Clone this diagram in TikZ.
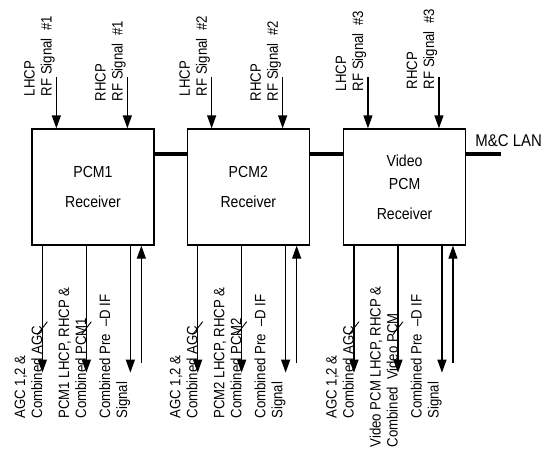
\documentclass[tikz,border=0pt]{standalone}
\usepackage{fontspec}
\setmainfont[FakeStretch=0.88]{Liberation Sans}
\usetikzlibrary{arrows.meta, positioning, calc}

\begin{document}
\begin{tikzpicture}[x=1pt, y=-1pt,
  >={Triangle[length=13pt, width=9pt]},
  rxbox/.style={
    draw, line width=1.3pt, minimum width=122pt, minimum height=116pt,
    inner sep=0pt, align=center, font=\fontsize{16}{18}\selectfont
  },
  sigarr/.style={->, line width=1.3pt},
  buslink/.style={line width=4pt},
  busmark/.style={line width=0.9pt},
  siglbl/.style={
    rotate=90, anchor=south west, align=left, inner sep=0pt,
    font=\fontsize{15}{17}\selectfont
  },
]
\useasboundingbox (0,0) rectangle (552,448);

% =============================================
% Receivers
% =============================================
\node[rxbox] (pcm1) at (93,187) {PCM1\\[12pt]Receiver};
\node[rxbox, right=32pt of pcm1] (pcm2) {PCM2\\[12pt]Receiver};
\node[rxbox, right=33pt of pcm2] (vpcm) {Video\\[5pt]PCM\\[12pt]Receiver};

% M&C LAN bus
\coordinate (lan1) at ($(pcm1.north east)+(0,26)$);
\coordinate (lan2) at ($(pcm2.north east)+(0,26)$);
\coordinate (lan3) at ($(vpcm.north east)+(0,26)$);
\coordinate (lanend) at ($(lan3)+(35,0)$);
\draw[buslink] (lan1) -- (lan1 -| pcm2.west);
\draw[buslink] (lan2) -- (lan2 -| vpcm.west);
\draw[buslink] (lan3) -- (lanend);
\node[anchor=west, inner sep=0pt, font=\fontsize{17}{19}\selectfont]
  (lanlbl) at ($(vpcm.north east)+(9,12)$) {M\&C LAN};

% =============================================
% RF inputs (top)
% =============================================
\foreach \bx/\n/\dl/\dr in {pcm1/1/19/24, pcm2/2/19/24, vpcm/3/14/12} {
  \coordinate (\bx-lin) at ($(\bx.north west)+(25,-51)$);
  \coordinate (\bx-rin) at ($(\bx.north west)+(96,-51)$);
  \draw[sigarr] (\bx-lin) -- (\bx-lin |- \bx.north);
  \draw[sigarr] (\bx-rin) -- (\bx-rin |- \bx.north);
  \node[siglbl] (\bx-llbl) at ($(\bx-lin)+(-1.5,\dl)$) {LHCP\\RF Signal\ \ \#\n};
  \node[siglbl] (\bx-rlbl) at ($(\bx-rin)+(-1.5,\dr)$) {RHCP\\RF Signal\ \ \#\n};
}

% =============================================
% Outputs (bottom)
% =============================================
\foreach \bx in {pcm1, pcm2, vpcm} {
  \coordinate (\bx-o1) at ($(\bx.south west)+(11,127)$);
  \coordinate (\bx-o2) at ($(\bx.south west)+(55,127)$);
  \coordinate (\bx-o3) at ($(\bx.south west)+(99,127)$);
  \coordinate (\bx-in) at ($(\bx.south west)+(110,117)$);
  \draw[sigarr] (\bx-o1 |- \bx.south) -- (\bx-o1);
  \draw[sigarr] (\bx-o2 |- \bx.south) -- (\bx-o2);
  \draw[sigarr] (\bx-o3 |- \bx.south) -- (\bx-o3);
  \draw[sigarr] (\bx-in) -- (\bx-in |- \bx.south);
  % bus slashes
  \draw[busmark] ($(\bx-o1)+(-5,-38)$) -- ++(10,-13);
  \draw[busmark] ($(\bx-o2)+(-5,-38)$) -- ++(10,-13);
  \node[siglbl] (\bx-l1) at ($(\bx-o1)+(0,46)$) {AGC 1,2 \&\\Combined AGC};
  \node[siglbl] (\bx-l3) at ($(\bx-o3)+(0,46)$) {Combined Pre\ \ --D IF\\Signal};
}
\node[siglbl] (pcm1-l2) at ($(pcm1-o2)+(0,46)$) {PCM1 LHCP, RHCP \&\\Combined PCM1};
\node[siglbl] (pcm2-l2) at ($(pcm2-o2)+(0,46)$) {PCM2 LHCP, RHCP \&\\Combined PCM2};
\node[siglbl] (vpcm-l2) at ($(vpcm-o2)+(0,75)$) {Video PCM LHCP, RHCP \&\\Combined\ \ Video PCM};

\end{tikzpicture}
\end{document}
